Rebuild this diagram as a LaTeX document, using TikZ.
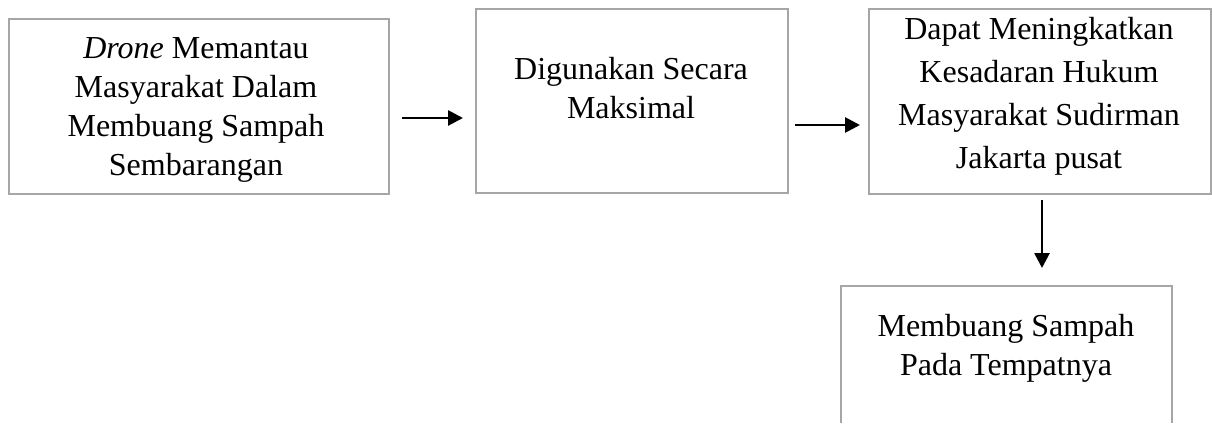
\documentclass[tikz,border=0pt]{standalone}
\usepackage{fontspec}
\setmainfont{Liberation Serif}
\usetikzlibrary{positioning, arrows.meta}

\begin{document}
\begin{tikzpicture}[x=1pt, y=-1pt, >={Triangle[length=15pt, width=15pt]},
    box/.style={draw=black!35, line width=2pt, inner sep=0pt, anchor=north west},
    boxline/.style={draw=black!35, line width=2pt},
    txt/.style={align=center, inner sep=0pt, anchor=base, font=\fontsize{32}{39}\selectfont},
    arr/.style={->, line width=2.7pt}]
    \useasboundingbox (0,0) rectangle (1212,423);
    % Boxes
    \node[box, minimum width=380pt, minimum height=175pt] (drone) at (8,18) {};
    \node[box, minimum width=312pt, minimum height=184pt] (guna) at (475,8) {};
    \node[box, minimum width=342pt, minimum height=185pt] (sadar) at (868,8) {};
    \node[inner sep=0pt, anchor=north west, minimum width=331pt, minimum height=137pt] (buang) at (841,286) {};
    \draw[boxline] (buang.south west) |- (buang.north east) -- (buang.south east);
    % Texts (placed at the baseline of their last line)
    \node[txt] (droneT) at (196,175) {\textit{Drone} Memantau\\Masyarakat Dalam\\Membuang Sampah\\Sembarangan};
    \node[txt] (gunaT) at (631,118) {Digunakan Secara\\Maksimal};
    \node[txt, font=\fontsize{32}{43}\selectfont] (sadarT) at (1039,168) {Dapat Meningkatkan\\Kesadaran Hukum\\Masyarakat Sudirman\\Jakarta pusat};
    \node[txt] (buangT) at (1006,375) {Membuang Sampah\\Pada Tempatnya};
    % Connections
    \coordinate (a1s) at (402,118);
    \coordinate (a1e) at (463,118);
    \coordinate (a2s) at (795,125);
    \coordinate (a2e) at (860,125);
    \coordinate (a3s) at (1042,200);
    \coordinate (a3e) at (1042,268);
    \draw[arr] (a1s) -- (a1e);
    \draw[arr] (a2s) -- (a2e);
    \draw[arr] (a3s) -- (a3e);
\end{tikzpicture}
\end{document}
